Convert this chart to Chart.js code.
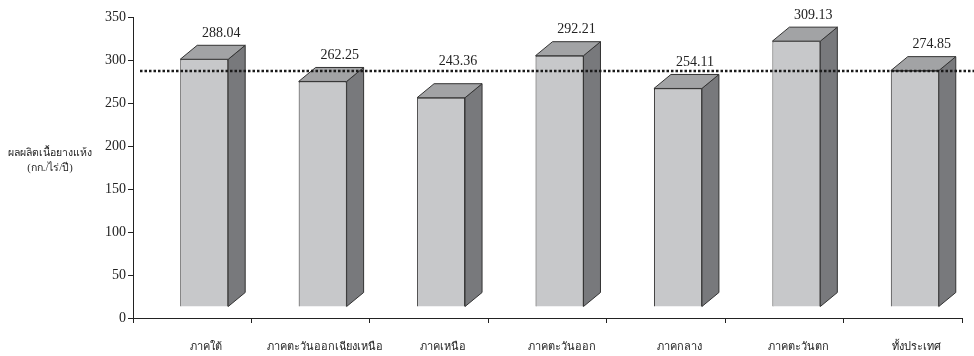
<!DOCTYPE html>
<html>
<head>
<meta charset="utf-8">
<script src="https://cdn.jsdelivr.net/npm/chart.js@4.4.1/dist/chart.umd.min.js"></script>
<style>
  html, body { margin: 0; padding: 0; background: #ffffff; }
  #wrap { width: 974px; height: 356px; }
</style>
</head>
<body>
<div id="wrap"><canvas id="chart" width="974" height="356"></canvas></div>
<script>
// Dry rubber yield by region (kg/rai/year)
const regions = ['ภาคใต้', 'ภาคตะวันออกเฉียงเหนือ', 'ภาคเหนือ', 'ภาคตะวันออก', 'ภาคกลาง', 'ภาคตะวันตก', 'ทั้งประเทศ'];
const yieldValues = [288.04, 262.25, 243.36, 292.21, 254.11, 309.13, 274.85];
const yTicks = [0, 50, 100, 150, 200, 250, 300, 350];
const yTitleLines = ['ผลผลิตเนื้อยางแห้ง', '(กก./ไร่/ปี)'];
// dotted reference line at the national figure
const referenceValue = [yieldValues[yieldValues.length - 1]];

const FONT = "'Liberation Serif', 'Times New Roman', serif";
const FRONT = '#c7c8ca';
const TOP = '#a2a3a5';
const SIDE = '#78797c';
const EDGE = '#333333';

// 3D projection: floor shift of the front face and depth offset of the box
const FLOOR_DX = 12, FLOOR_DY = 11;
const DEPTH_DX = 17, DEPTH_DY = 14;

const boxes3d = {
  id: 'boxes3d',
  beforeDatasetsDraw(chart) {
    chart.ctx.save();
    chart.ctx.translate(FLOOR_DX, -FLOOR_DY);
  },
  afterDatasetsDraw(chart) {
    const ctx = chart.ctx;
    const meta = chart.getDatasetMeta(0);
    const yScale = chart.scales.y;
    const lineY = Math.round(yScale.getPixelForValue(referenceValue[0]) - FLOOR_DY);
    ctx.lineWidth = 1;
    ctx.strokeStyle = EDGE;
    ctx.lineJoin = 'miter';
    meta.data.forEach((bar) => {
      const p = bar.getProps(['x', 'y', 'base', 'width'], true);
      const l = p.x - p.width / 2, r = p.x + p.width / 2;
      const t = p.y, b = p.base;
      // side face
      ctx.beginPath();
      ctx.moveTo(r, t);
      ctx.lineTo(r + DEPTH_DX, t - DEPTH_DY);
      ctx.lineTo(r + DEPTH_DX, b - DEPTH_DY);
      ctx.lineTo(r, b);
      ctx.closePath();
      ctx.fillStyle = SIDE;
      ctx.fill();
      ctx.stroke();
      // top face
      ctx.beginPath();
      ctx.moveTo(l, t);
      ctx.lineTo(l + DEPTH_DX, t - DEPTH_DY);
      ctx.lineTo(r + DEPTH_DX, t - DEPTH_DY);
      ctx.lineTo(r, t);
      ctx.closePath();
      ctx.fillStyle = TOP;
      ctx.fill();
      ctx.stroke();
    });
    // value labels above each box, lifted clear of the dotted line if they would cross it
    ctx.fillStyle = '#222';
    ctx.font = '14px ' + FONT;
    ctx.textAlign = 'center';
    ctx.textBaseline = 'middle';
    meta.data.forEach((bar, i) => {
      const p = bar.getProps(['x', 'y'], true);
      let cy = p.y - DEPTH_DY - 12;
      const screenY = cy - FLOOR_DY;
      if (Math.abs(screenY - lineY) < 8) cy = lineY + FLOOR_DY - 10;
      ctx.fillText(yieldValues[i].toFixed(2), p.x + DEPTH_DX, cy);
    });
    ctx.restore();

    // dotted reference line
    ctx.save();
    ctx.strokeStyle = '#1a1a1a';
    ctx.lineWidth = 2.5;
    ctx.setLineDash([2.5, 2]);
    ctx.beginPath();
    ctx.moveTo(chart.chartArea.left + 7, lineY);
    ctx.lineTo(chart.width, lineY);
    ctx.stroke();
    ctx.restore();
  }
};

const yTitle = {
  id: 'yTitle',
  afterDraw(chart) {
    const ctx = chart.ctx;
    ctx.save();
    ctx.fillStyle = '#222';
    ctx.font = '10.5px ' + FONT;
    ctx.textAlign = 'center';
    ctx.textBaseline = 'middle';
    ctx.fillText(yTitleLines[0], 50, 153);
    ctx.fillText(yTitleLines[1], 50, 168);
    ctx.restore();
  }
};

new Chart(document.getElementById('chart'), {
  type: 'bar',
  data: {
    labels: regions,
    datasets: [{
      data: yieldValues,
      backgroundColor: FRONT,
      borderColor: EDGE,
      borderWidth: 1,
      barPercentage: 0.405,
      categoryPercentage: 1,
      clip: false
    }]
  },
  options: {
    responsive: false,
    animation: false,
    devicePixelRatio: 1,
    layout: { padding: { top: 17, right: 12, left: 0, bottom: 0 } },
    plugins: { legend: { display: false }, tooltip: { enabled: false } },
    scales: {
      x: {
        grid: { display: true, drawOnChartArea: false, drawTicks: true, tickLength: 5, offset: true, color: '#222', lineWidth: 1 },
        border: { display: true, color: '#222', width: 1 },
        ticks: { color: '#222', font: { family: FONT, size: 11 }, labelOffset: 14, padding: 18, maxRotation: 0, autoSkip: false },
        afterFit(scale) { scale.height = 38; }
      },
      y: {
        min: 0,
        max: 350,
        afterBuildTicks(scale) { scale.ticks = yTicks.map(v => ({ value: v })); },
        grid: { display: true, drawOnChartArea: false, drawTicks: true, tickLength: 5, color: '#222', lineWidth: 1 },
        border: { display: true, color: '#222', width: 1 },
        ticks: { color: '#222', font: { family: FONT, size: 14 }, padding: 2 },
        afterFit(scale) { scale.width = 133; }
      }
    }
  },
  plugins: [boxes3d, yTitle]
});
</script>
</body>
</html>
